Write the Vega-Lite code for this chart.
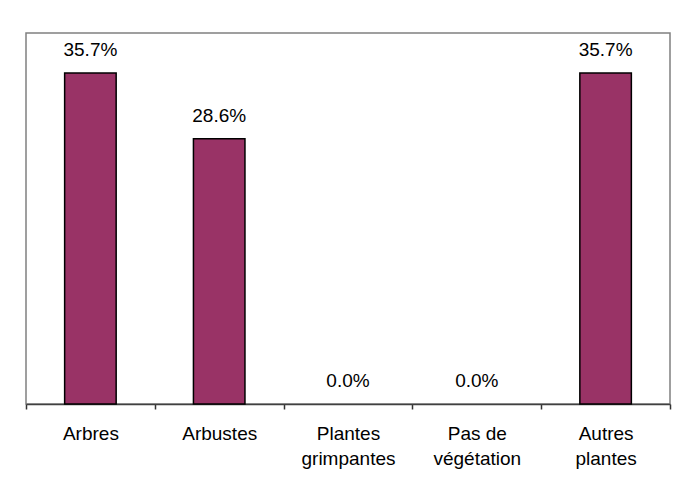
{
  "$schema": "https://vega.github.io/schema/vega-lite/v6.json",
  "width": 644,
  "height": 371,
  "padding": {"left": 25, "top": 33, "right": 13, "bottom": 5},
  "background": "white",
  "config": {
    "view": {"stroke": "#808080", "strokeWidth": 1.5},
    "font": "Liberation Sans"
  },
  "data": {
    "values": [
      {"cat": "Arbres", "val": 0.357},
      {"cat": "Arbustes", "val": 0.286},
      {"cat": "Plantes grimpantes", "val": 0.0},
      {"cat": "Pas de végétation", "val": 0.0},
      {"cat": "Autres plantes", "val": 0.357}
    ]
  },
  "encoding": {
    "x": {
      "field": "cat",
      "type": "nominal",
      "sort": null,
      "scale": {"paddingInner": 0, "paddingOuter": 0},
      "axis": {
        "title": null,
        "labelAngle": 0,
        "labelFontSize": 19,
        "labelColor": "black",
        "labelLineHeight": 25,
        "labelPadding": 15,
        "tickSize": 5,
        "tickColor": "#333333",
        "tickWidth": 1.5,
        "tickBand": "extent",
        "domainColor": "#404040",
        "domainWidth": 1.5,
        "labelExpr": "datum.label == 'Pas de végétation' ? ['Pas de', 'végétation'] : split(datum.label, ' ')"
      }
    },
    "y": {
      "field": "val",
      "type": "quantitative",
      "scale": {"domain": [0, 0.4]},
      "axis": null
    }
  },
  "layer": [
    {
      "mark": {"type": "bar", "width": {"band": 0.4}, "color": "#993366", "strokeWidth": 1.5},
      "encoding": {
        "stroke": {"condition": {"test": "datum.val > 0", "value": "black"}, "value": null}
      }
    },
    {
      "mark": {"type": "text", "baseline": "alphabetic", "dy": -17, "fontSize": 19, "color": "black"},
      "encoding": {"text": {"field": "val", "type": "quantitative", "format": ".1%"}}
    }
  ]
}
